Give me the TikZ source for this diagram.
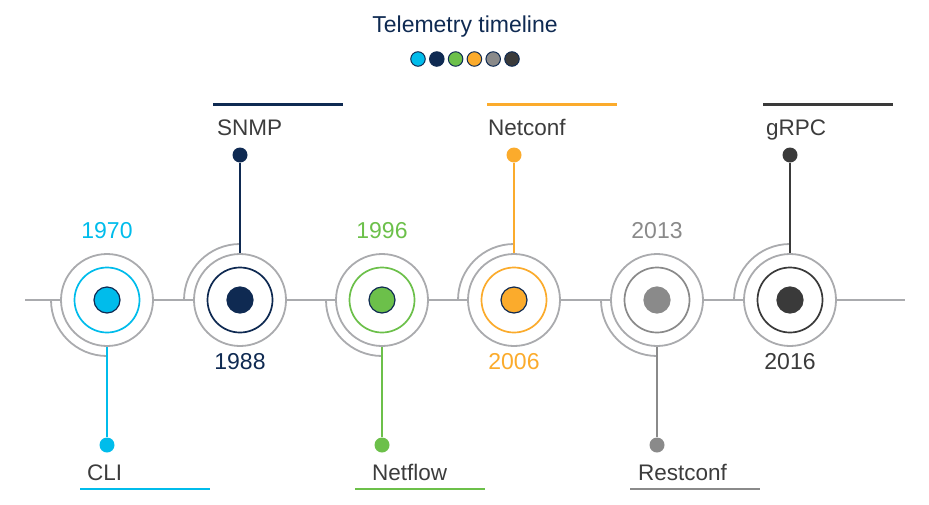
\documentclass[tikz,border=0pt]{standalone}
\usepackage{fontspec}
\setmainfont{Liberation Sans}
\usepackage{tikz}
\definecolor{TeleCyan}{HTML}{00BCEB}
\definecolor{TeleNavy}{HTML}{0F2A52}
\definecolor{TeleGreen}{HTML}{6CC04A}
\definecolor{TeleOrange}{HTML}{FBAB2C}
\definecolor{TeleGray}{HTML}{8A8A8A}
\definecolor{TeleDark}{HTML}{3A3A3A}
\definecolor{TeleRing}{HTML}{AAABAE}
\definecolor{TeleText}{HTML}{3C3C3C}

\begin{document}
\begin{tikzpicture}[x=1pt,y=1pt,
    ringline/.style={draw=TeleRing, line width=1.8pt},
    bigring/.style={circle, inner sep=0pt, minimum size=92pt, fill=white, ringline},
    innerring/.style={circle, inner sep=0pt, minimum size=65pt, line width=1.7pt},
    coredot/.style={circle, inner sep=0pt, minimum size=26pt, line width=1.2pt},
    enddot/.style={circle, inner sep=0pt, minimum size=15pt},
    yearlabel/.style={anchor=base, inner sep=0pt, font=\fontsize{23}{27}\selectfont},
    namelabel/.style={anchor=base west, inner sep=0pt, text=TeleText, font=\fontsize{22.5}{27}\selectfont}]
  \useasboundingbox (0,0) rectangle (929,-504);
  \node[anchor=base, inner sep=0pt, text=TeleNavy, font=\fontsize{23}{27}\selectfont] (title) at (465,-32) {Telemetry timeline};
  \foreach \k/\col in {0/TeleCyan,1/TeleNavy,2/TeleGreen,3/TeleOrange,4/TeleGray,5/TeleDark}
    \node[circle, inner sep=0pt, minimum size=14.5pt, fill=\col, draw=TeleNavy, line width=1pt] (key\k) at ({418+18.8*\k},-59) {};
  \coordinate (lineL) at (25,-300);
  \coordinate (lineR) at (905,-300);
  \foreach \i/\cx/\col/\rim/\year/\lab/\labx/\side in {
      1/107/TeleCyan/TeleNavy/1970/CLI/87/-1,
      2/240/TeleNavy/TeleNavy/1988/SNMP/217/1,
      3/382/TeleGreen/TeleNavy/1996/Netflow/372/-1,
      4/514/TeleOrange/TeleNavy/2006/Netconf/488/1,
      5/657/TeleGray/TeleGray/2013/Restconf/638/-1,
      6/790/TeleDark/TeleDark/2016/gRPC/766/1} {
    \draw[ringline] ({\cx-56},-300) arc[start angle=180, end angle={180-90*\side}, radius=56];
    \node[bigring] (ring\i) at (\cx,-300) {};
    \node[innerring, draw=\col] (inner\i) at (\cx,-300) {};
    \node[coredot, fill=\col, draw=\rim] (core\i) at (\cx,-300) {};
    \node[enddot, fill=\col] (end\i) at (\cx,{-300+145*\side}) {};
    \draw[\col, line width=1.8pt] (ring\i) -- (end\i);
    \node[yearlabel, text=\col] (year\i) at (\cx,{-303.5-65.5*\side}) {\year};
    \node[namelabel] (name\i) at (\labx,{-307.5+172.5*\side}) {\lab};
    \draw[\col, line width=2.6pt] ({\cx-27},{-296.75+192.25*\side}) -- ({\cx+103},{-296.75+192.25*\side});
  }
  \draw[ringline] (lineL) -- (ring1);
  \foreach \a/\b in {1/2,2/3,3/4,4/5,5/6}
    \draw[ringline] (ring\a) -- (ring\b);
  \draw[ringline] (ring6) -- (lineR);
\end{tikzpicture}
\end{document}
